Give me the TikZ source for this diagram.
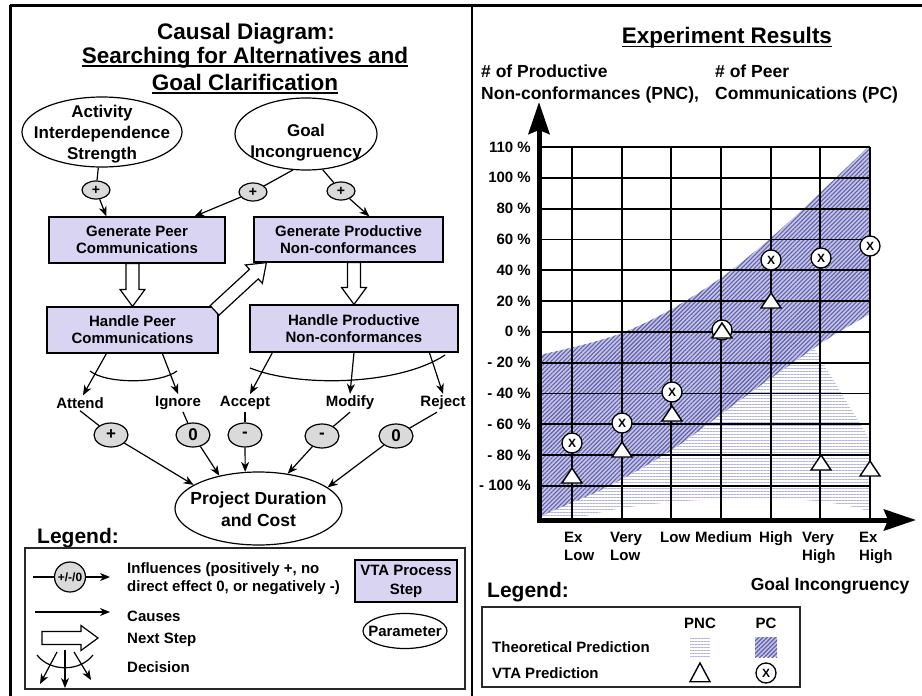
\documentclass[tikz,border=0pt]{standalone}
\usepackage{fontspec}
\setmainfont{Liberation Sans}
\usetikzlibrary{arrows.meta,patterns.meta,calc,shapes.geometric}

\definecolor{stepfill}{RGB}{216,212,242}
\definecolor{inflfill}{RGB}{218,218,218}
\definecolor{pcbg}{RGB}{196,196,232}
\definecolor{pcline}{RGB}{96,96,170}
\definecolor{pncline}{RGB}{178,178,228}
\definecolor{framecol}{RGB}{40,40,40}

\newcommand\fsz[2]{\fontsize{#1}{#2}\selectfont}

% hollow "next step" arrow between two points
\newcommand\hollowarrow[2]{%
  \draw[thinline, fill=white] let \p1=#1, \p2=#2,
    \n1={atan2(\y2-\y1,\x2-\x1)}, \n2={veclen(\x2-\x1,\y2-\y1)}, \n3={\n2-17} in
    ($(\p1)+({\n1+90}:6.5pt)$)
    -- ($(\p1)+(\n1:{\n3*1pt})+({\n1+90}:6.5pt)$)
    -- ($(\p1)+(\n1:{\n3*1pt})+({\n1+90}:12.5pt)$)
    -- (\p2)
    -- ($(\p1)+(\n1:{\n3*1pt})+({\n1-90}:12.5pt)$)
    -- ($(\p1)+(\n1:{\n3*1pt})+({\n1-90}:6.5pt)$)
    -- ($(\p1)+({\n1-90}:6.5pt)$) -- cycle;
}

\begin{document}
\begin{tikzpicture}[x=1pt,y=-1pt,
  every node/.style={font=\bfseries, inner sep=0pt},
  thinline/.style={line width=1.2pt, draw=black},
  cause/.style={thinline, -{Stealth[length=10pt,width=8pt,inset=3pt]}},
  ellshape/.style={draw, ellipse, line width=1.2pt, fill=white, inner sep=0pt},
  etext/.style={align=center, font=\bfseries\fsz{17}{21}},
  stepbox/.style={draw, fill=stepfill, line width=1.2pt, inner sep=0pt, align=center, font=\bfseries\fsz{15}{17}},
  inflbox/.style={draw, ellipse, fill=inflfill, line width=1.2pt, minimum width=34pt, minimum height=24pt, inner sep=0pt, font=\bfseries\fsz{17}{17}},
  smallinfl/.style={inflbox, minimum width=28pt, minimum height=18pt, font=\bfseries\fsz{14}{14}},
  lbl/.style={inner sep=2pt, font=\bfseries\fsz{15}{18}},
  legtext/.style={anchor=west, align=left, font=\bfseries\fsz{15}{18}},
  gridline/.style={line width=1.8pt, draw=black},
  axisline/.style={line width=5pt, {Stealth[length=32pt,width=21pt,inset=4pt]}-{Stealth[length=32pt,width=21pt,inset=4pt]}},
  pcx/.style={draw, circle, fill=white, line width=1.3pt, minimum size=20pt, inner sep=0pt, font=\bfseries\fsz{12}{12}},
  vtatri/.pic={\draw[fill=white, line width=1.4pt] (-10,7) -- (10,7) -- (0,-8) -- cycle;},
  pcband/.style={preaction={fill=pcbg}, pattern={Lines[angle=45,distance=3pt,line width=1.1pt]}, pattern color=pcline},
  pncband/.style={pattern={Lines[angle=0,distance=3pt,line width=1pt]}, pattern color=pncline},
]
\useasboundingbox (0,0) rectangle (922,696);
\fill[white] (0,0) rectangle (922,696);

% outer frame and panel divider
\draw[line width=3pt] (10,5) -- (922,5);
\draw[line width=3pt] (10,5) -- (10,696);
\draw[line width=1.5pt] (472,5) -- (472,696);

% ================= left panel: causal diagram =================
\node[font=\bfseries\fsz{22.5}{25}, anchor=base] (ttl1) at (246,39) {Causal Diagram:};
\node[font=\bfseries\fsz{22.5}{25}, anchor=base] (ttl2) at (245,63) {Searching for Alternatives and};
\node[font=\bfseries\fsz{22.5}{25}, anchor=base] (ttl3) at (245,90) {Goal Clarification};
\draw[line width=1.6pt] ($(ttl2.base west)+(0,3)$) -- ($(ttl2.base east)+(0,3)$);
\draw[line width=1.6pt] ($(ttl3.base west)+(0,3)$) -- ($(ttl3.base east)+(0,3)$);

% parameters
\node[ellshape, minimum width=160pt, minimum height=70pt] (ais) at (102,132) {};
\node[etext] (aistxt) at (102,134) {Activity\\Interdependence\\Strength};
\node[ellshape, minimum width=142pt, minimum height=72pt] (gi) at (306,134) {};
\node[etext] (gitxt) at (306,143) {Goal\\Incongruency};

% influences on the generating steps
\node[smallinfl] (pa) at (96,190) {+};
\node[smallinfl] (pb) at (253,192) {+};
\node[smallinfl] (pc) at (341,191) {+};

% process steps
\node[stepbox, minimum width=176pt, minimum height=46pt] (gpc) at (137,240) {Generate Peer\\Communications};
\node[stepbox, minimum width=189pt, minimum height=45pt] (gprod) at (348.5,239.5) {Generate Productive\\Non-conformances};
\node[stepbox, minimum width=171pt, minimum height=46pt] (hpc) at (132.5,330) {Handle Peer\\Communications};
\node[stepbox, minimum width=208pt, minimum height=47pt] (hprod) at (354,328.5) {Handle Productive\\Non-conformances};

\draw[thinline] (ais) -- (pa);
\draw[cause] (pa) -- ($(gpc.north west)+(58,0)$);
\draw[thinline] (gi.250) -- (pb);
\draw[thinline] (gi.295) -- (pc);
\draw[cause] (pb) -- ($(gpc.north west)+(146,0)$);
\draw[cause] (pc) -- ($(gprod.north west)+(116,0)$);

% next-step arrows
\hollowarrow{(hpc.north |- gpc.south)}{(hpc.north)}
\hollowarrow{(hprod.north |- gprod.south)}{(hprod.north)}
\hollowarrow{($(hpc.north east)+(-4,4)$)}{($(gprod.south west)+(13,0)$)}

% decisions
\node[lbl] (attend) at (80,403) {Attend};
\node[lbl] (ignore) at (178,403) {Ignore};
\node[lbl] (accept) at (245,403) {Accept};
\node[lbl] (modify) at (350,403) {Modify};
\node[lbl] (reject) at (443,403) {Reject};

\draw[cause] ($(hpc.south west)+(60,0)$) -- ($(attend.north)+(3,0)$);
\draw[cause] ($(hpc.south west)+(116,0)$) -- (ignore.north);
\draw[cause] ($(hprod.south west)+(23,0)$) -- ($(accept.north)+(5,0)$);
\draw[cause] (hprod.south) -- (modify.north);
\draw[cause] ($(hprod.south west)+(180,0)$) -- (reject.north);
\draw[thinline] (90,371) .. controls (106,384) and (160,384) .. (177,371);
\draw[thinline] (250,368) .. controls (300,388) and (400,385) .. (445,355);

% influences on the project outcome
\node[inflbox] (io1) at (111,435) {+};
\node[inflbox] (io2) at (193,435) {0};
\node[inflbox] (io3) at (245,435) {-};
\node[inflbox] (io4) at (322,436) {-};
\node[inflbox] (io5) at (396,436) {0};

\draw[thinline] (attend.south) -- (io1);
\draw[thinline] ($(ignore.south)+(5,0)$) -- (io2);
\draw[thinline] (accept.south) -- (io3);
\draw[thinline] (modify.south) -- (io4);
\draw[thinline] ($(reject.south)+(-6,0)$) -- (io5);

\node[ellshape, minimum width=167pt, minimum height=73pt] (pdc) at (258.5,508.5) {};
\node[align=center, font=\bfseries\fsz{17.5}{22}] (pdctxt) at (258.5,509) {Project Duration\\and Cost};

\draw[cause] (io1) -- (pdc.160);
\draw[cause] (io2) -- (pdc.140);
\draw[cause] (io3) -- (pdc.110);
\draw[cause] (io4) -- (pdc.50);
\draw[cause] (io5) -- (pdc.17);

% legend of the causal diagram
\node[font=\bfseries\fsz{21}{21}, anchor=base west] (leg1) at (37,543) {Legend:};
\draw[line width=1.4pt, draw=framecol] (25,548) rectangle (465,689);

\coordinate (lgiin) at (33,577);
\coordinate (lgiout) at (110,577);
\node[inflbox, minimum width=31pt, minimum height=30pt, font=\bfseries\fsz{12}{12}] (lgi) at (70,577) {\makebox[0pt]{+/-/0}};
\draw[thinline] (lgiin) -- (lgi);
\draw[cause] (lgi) -- (lgiout);
\node[legtext] (lgitxt) at (127,579) {Influences (positively +, no\\direct effect 0, or negatively -)};

\node[stepbox, minimum width=102pt, minimum height=42pt, font=\bfseries\fsz{15}{19}] (lstep) at (406,581) {VTA Process\\Step};

\coordinate (lcin) at (35,612);
\coordinate (lcout) at (110,612);
\draw[cause] (lcin) -- (lcout);
\node[legtext] (lctxt) at (127,616) {Causes};

\coordinate (lnin) at (42,638);
\coordinate (lnout) at (98,638);
\hollowarrow{(lnin)}{(lnout)}
\node[legtext] (lntxt) at (127,640) {Next Step};

\node[ellshape, minimum width=84pt, minimum height=35pt, font=\bfseries\fsz{15}{15}] (lparam) at (405,631) {\makebox[0pt]{Parameter}};

\coordinate (ldtop) at (65,650);
\draw[cause] (57,652) -- (40,684);
\draw[cause] (ldtop) -- (65,688);
\draw[cause] (74,652) -- (91,680);
\draw[thinline] (37,655) .. controls (50,672) and (80,672) .. (93,655);
\node[legtext] (ldtxt) at (127,667) {Decision};

% ================= right panel: experiment results =================
\node[font=\bfseries\fsz{22.5}{25}, anchor=base] (ttl4) at (727,43) {Experiment Results};
\draw[line width=1.6pt] ($(ttl4.base west)+(0,3.5)$) -- ($(ttl4.base east)+(0,3.5)$);

\node[anchor=north west, align=left, font=\bfseries\fsz{17.5}{22}] (ylab) at (481,65) {\# of Productive\\Non-conformances (PNC),};
\node[anchor=north west, align=left, font=\bfseries\fsz{17.5}{22}] (ylab2) at (715,65) {\# of Peer\\Communications (PC)};

% theoretical prediction bands
\path[pncband]
  (539,440) -- (700,345) -- (812,345) -- (870,440) -- (870,512)
  .. controls (845,502) and (790,496) .. (720,499)
  .. controls (650,502) and (600,510) .. (574,520) -- (539,520) -- cycle;
\path[pcband]
  plot[smooth, tension=0.6] coordinates {(539,355) (622,333) (700,292) (772,237) (867,148)}
  -- (870,147) -- (870,314)
  -- plot[smooth, tension=0.5] coordinates {(870,314) (823,342) (743,398) (673,449) (607,487) (550,512) (541,518)}
  -- (539,520) -- cycle;

% grid
\foreach \gx in {572,621.67,671.33,721,770.67,820.33,870}
  \draw[gridline] (\gx,147) -- (\gx,520);
\foreach \gy in {147,177.8,208.6,239.4,270.2,301,331.8,362.6,393.4,424.2,455,485.8}
  \draw[gridline] (539,\gy) -- (870,\gy);

\foreach \lab/\gy [count=\i] in {110 \%/147, 100 \%/177.8, 80 \%/208.6, 60 \%/239.4, 40 \%/270.2, 20 \%/301, 0 \%/331.8, - 20 \%/362.6, - 40 \%/393.4, - 60 \%/424.2, - 80 \%/455, - 100 \%/485.8}
  \node[anchor=east, font=\bfseries\fsz{15}{15}] (ytick\i) at (531,\gy) {\lab};

% axes
\coordinate (ytop) at (539,102);
\coordinate (O) at (539,520);
\coordinate (xend) at (916,520);
\draw[axisline] (ytop) -- (O) -- (xend);

\foreach \xl/\txt [count=\i] in {564/{Ex\\Low}, 610/{Very\\Low}, 660/Low, 695/Medium, 759/High, 802/{Very\\High}, 859/{Ex\\High}}
  \node[anchor=north west, align=left, font=\bfseries\fsz{15}{18}] (xtick\i) at (\xl,531.5) {\txt};

\node[font=\bfseries\fsz{17.5}{17.5}] (xlab) at (830,586) {Goal Incongruency};

% VTA predictions
\foreach \xx/\yy [count=\i] in {572/443, 622/423, 672/392, 722/330, 771/260, 821/258, 870/246}
  \node[pcx] (pcm\i) at (\xx,\yy) {X};
\foreach \xx/\yy in {572/476, 622/450, 672/414, 722/331, 771/301, 821/463, 870/469}
  \pic at (\xx,\yy) {vtatri};

% legend of the results
\node[font=\bfseries\fsz{21}{21}, anchor=base west] (leg2) at (487,597) {Legend:};
\draw[line width=1.4pt, draw=framecol] (482,607) rectangle (800,687);
\node[font=\bfseries\fsz{15}{15}] (hpnc) at (700,623) {PNC};
\node[font=\bfseries\fsz{15}{15}] (hpc2) at (766,623) {PC};
\node[legtext] (ltheo) at (492,647) {Theoretical Prediction};
\node[legtext] (lvta) at (492,673) {VTA Prediction};
\path[pncband] (690,637) rectangle (710,657);
\path[pcband] (755,637) rectangle (777,657);
\pic[yscale=1.25] at (700,673) {vtatri};
\node[pcx] (lpcx) at (766,673) {X};
\end{tikzpicture}
\end{document}
